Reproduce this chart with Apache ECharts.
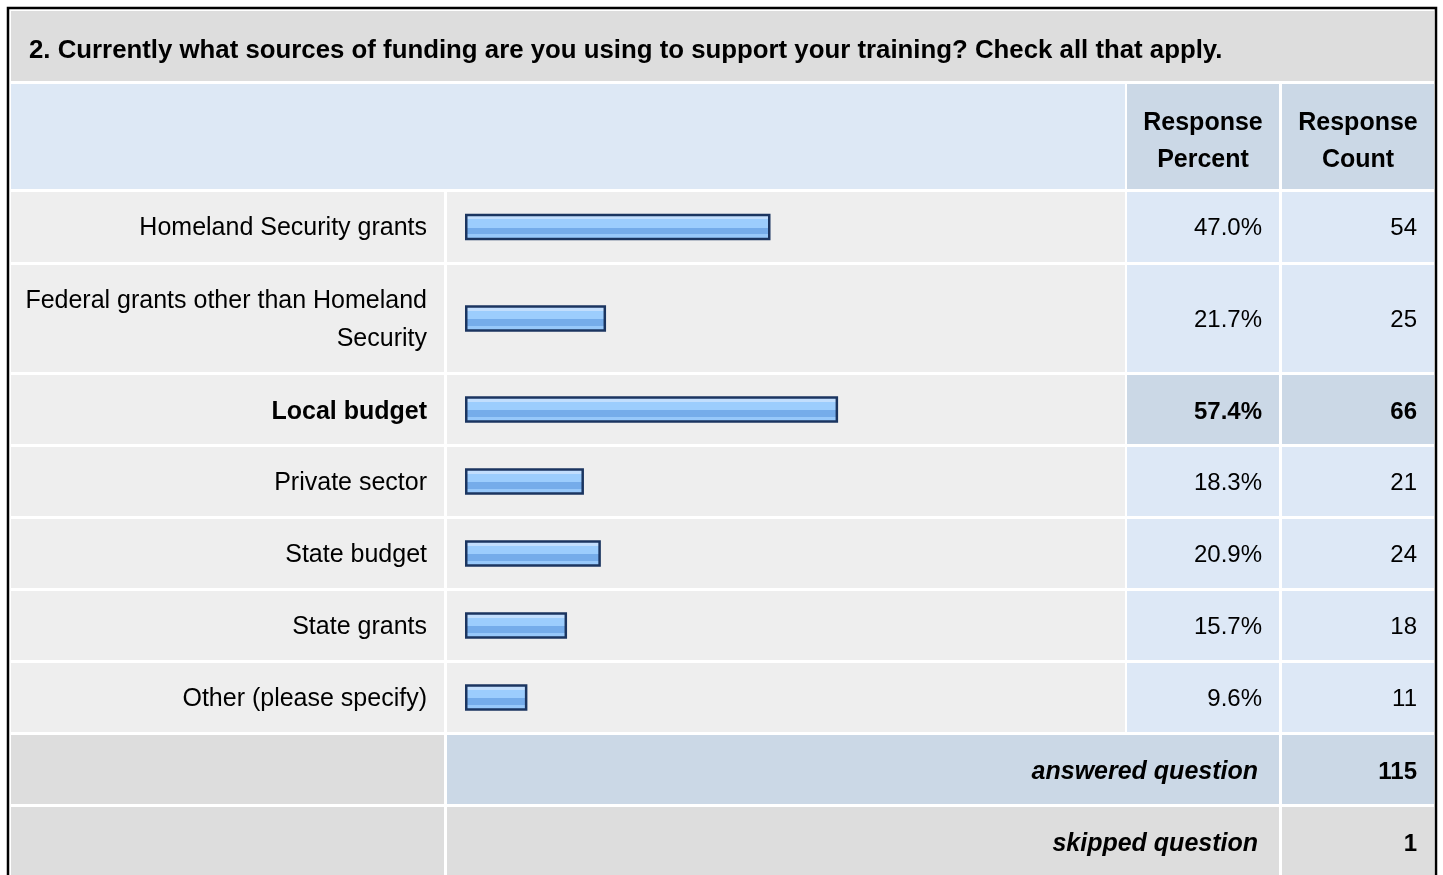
<!DOCTYPE html>
<html>
<head>
<meta charset="utf-8">
<script src="https://cdn.jsdelivr.net/npm/echarts@6/dist/echarts.min.js"></script>
<style>
html,body{margin:0;padding:0;background:#fff;}
#chart{width:1443px;height:875px;}
</style>
</head>
<body>
<div id="chart"></div>
<script>
// ---- data ----
const questionTitle = '2. Currently what sources of funding are you using to support your training? Check all that apply.';
const headerPercent = 'Response\nPercent';
const headerCount = 'Response\nCount';
const categories = [
  'Homeland Security grants',
  'Federal grants other than Homeland\nSecurity',
  'Local budget',
  'Private sector',
  'State budget',
  'State grants',
  'Other (please specify)'
];
const percents = [47.0, 21.7, 57.4, 18.3, 20.9, 15.7, 9.6];
const counts = [54, 25, 66, 21, 24, 18, 11];
const summaryLabels = ['answered question', 'skipped question'];
const summaryValues = [115, 1];

// ---- layout ----
const FONT = '"Liberation Sans", Arial, Helvetica, sans-serif';
const colLabel = [11, 444];
const colBar = [447, 1125];
const colPct = [1127, 1279];
const colCnt = [1282, 1434];
const GAP = 3;
const rowPitch = [73, 110, 72, 72, 72, 72, 72];
const firstRowTop = 192;

const C_TITLE = '#dddddd';
const C_HEAD = '#dde8f5';
const C_HEAD_DARK = '#cbd8e6';
const C_ROW = '#eeeeee';
const C_VAL = '#dde8f6';

const maxIdx = percents.indexOf(Math.max(...percents));

const els = [];
function rect(x0, x1, y0, y1, fill) {
  els.push({type: 'rect', silent: true, z: 0,
    shape: {x: x0, y: y0, width: x1 - x0, height: y1 - y0},
    style: {fill: fill}});
}
function text(x, y, str, opt) {
  opt = opt || {};
  els.push({type: 'text', silent: true, z: 10, x: x, y: y,
    style: {
      text: str,
      fill: '#000',
      fontFamily: FONT,
      fontSize: opt.size || 24,
      fontWeight: opt.weight || 'normal',
      fontStyle: opt.style || 'normal',
      align: opt.align || 'right',
      verticalAlign: 'middle',
      lineHeight: opt.lh || 38
    }});
}

// title row
rect(11, 1434, 11, 81, C_TITLE);
text(29, 51, questionTitle, {align: 'left', weight: 'bold', size: 25.8});
// header row
rect(11, 1125, 84, 189, C_HEAD);
rect(colPct[0], colPct[1], 84, 189, C_HEAD_DARK);
rect(colCnt[0], colCnt[1], 84, 189, C_HEAD_DARK);
text((colPct[0] + colPct[1]) / 2, 142, headerPercent, {align: 'center', weight: 'bold', lh: 37, size: 25});
text((colCnt[0] + colCnt[1]) / 2, 142, headerCount, {align: 'center', weight: 'bold', lh: 37, size: 25});

// data rows
const grids = [], xAxes = [], yAxes = [], series = [];
let y = firstRowTop;
categories.forEach(function (cat, i) {
  const h = rowPitch[i] - GAP;
  const hi = i === maxIdx;
  rect(colLabel[0], colLabel[1], y, y + h, C_ROW);
  rect(colBar[0], colBar[1], y, y + h, C_ROW);
  rect(colPct[0], colPct[1], y, y + h, hi ? C_HEAD_DARK : C_VAL);
  rect(colCnt[0], colCnt[1], y, y + h, hi ? C_HEAD_DARK : C_VAL);
  const cy = y + h / 2 + (hi ? 2.5 : 1.5);
  const w = hi ? 'bold' : 'normal';
  text(427, cy, cat, {weight: w, size: 25});
  text(1262, cy, percents[i].toFixed(1) + '%', {weight: w});
  text(1417, cy, String(counts[i]), {weight: w});

  grids.push({left: 465, width: 650, top: y + (h - 28) / 2, height: 28});
  xAxes.push({type: 'value', gridIndex: i, min: 0, max: 100, show: false});
  yAxes.push({type: 'category', gridIndex: i, data: [cat], show: false});
  series.push({
    type: 'bar', xAxisIndex: i, yAxisIndex: i, z: 5,
    data: [percents[i]], barWidth: 26.5, silent: true,
    itemStyle: {
      borderColor: '#1b3560', borderWidth: 2.5,
      color: {type: 'linear', x: 0, y: 0, x2: 0, y2: 1, colorStops: [
        {offset: 0, color: '#c2defd'}, {offset: 0.2, color: '#c2defd'},
        {offset: 0.2, color: '#9ccdfd'}, {offset: 0.52, color: '#9ccdfd'},
        {offset: 0.52, color: '#75acea'}, {offset: 0.78, color: '#75acea'},
        {offset: 0.78, color: '#97c8fa'}, {offset: 1, color: '#97c8fa'}
      ]}
    }
  });
  y += rowPitch[i];
});

// summary rows
summaryLabels.forEach(function (lab, k) {
  const h = 69;
  const fill = k === 0 ? C_HEAD_DARK : C_TITLE;
  rect(colLabel[0], colLabel[1], y, y + h, C_TITLE);
  rect(colBar[0], colPct[1], y, y + h, fill);
  rect(colCnt[0], colCnt[1], y, y + h, fill);
  const cy = y + h / 2 + 3;
  text(1258, cy, lab, {weight: 'bold', style: 'italic', size: 25});
  text(1417, cy, String(summaryValues[k]), {weight: 'bold'});
  y += 72;
});

// outer border
els.push({type: 'rect', silent: true, z: 20,
  shape: {x: 8, y: 8, width: 1428, height: 1000},
  style: {fill: 'none', stroke: '#000', lineWidth: 2.5}});

const chart = echarts.init(document.getElementById('chart'), null, {renderer: 'canvas'});
chart.setOption({
  animation: false,
  backgroundColor: '#ffffff',
  grid: grids,
  xAxis: xAxes,
  yAxis: yAxes,
  series: series,
  graphic: {elements: els}
});
</script>
</body>
</html>
